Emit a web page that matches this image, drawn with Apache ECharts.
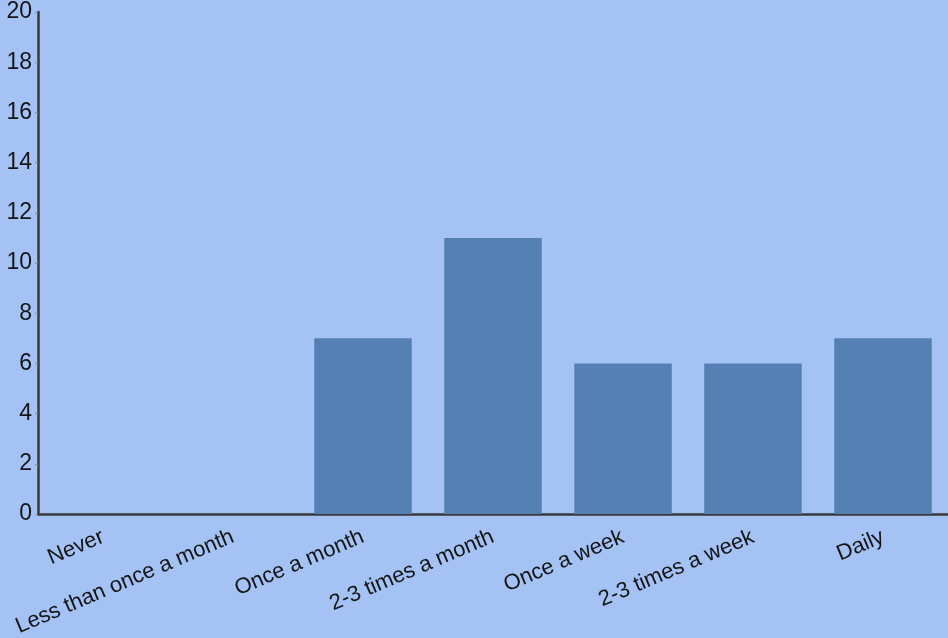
<!DOCTYPE html>
<html><head><meta charset="utf-8">
<script src="https://cdn.jsdelivr.net/npm/echarts@6/dist/echarts.min.js"></script>
<style>html,body{margin:0;padding:0;background:#a4c2f4;}#c{width:948px;height:638px;}</style>
</head><body><div id="c"></div>
<script>
const categories = ["Never","Less than once a month","Once a month","2-3 times a month","Once a week","2-3 times a week","Daily"];
const values = [0,0,7,11,6,6,7];
const yTicks = {min:0,max:20,interval:2};

const chart = echarts.init(document.getElementById('c'), null, {renderer:'canvas'});
chart.setOption({
  backgroundColor:'#a4c2f4',
  animation:false,
  grid:{left:38,right:0,top:12,bottom:124,containLabel:false,outerBoundsMode:'none'},
  xAxis:{
    type:'category',data:categories,
    axisLine:{lineStyle:{color:'#3a3a3a',width:2.5}},
    axisTick:{alignWithLabel:true,length:4,lineStyle:{color:'#7a8aa0'}},
    axisLabel:{rotate:23,interval:0,fontFamily:'Liberation Sans, Arial',fontSize:22,color:'#151515',margin:22}
  },
  yAxis:{
    type:'value',min:yTicks.min,max:yTicks.max,interval:yTicks.interval,
    axisLine:{show:true,lineStyle:{color:'#3a3a3a',width:2.5}},
    axisTick:{show:true,length:3,lineStyle:{color:'#7a8aa0'}},
    splitLine:{show:false},
    axisLabel:{fontFamily:'Liberation Sans, Arial',fontSize:23,color:'#151515',margin:6}
  },
  series:[{
    type:'bar',data:values,barCategoryGap:'25%',
    itemStyle:{color:'#5480b4'}
  }]
});
</script></body></html>
